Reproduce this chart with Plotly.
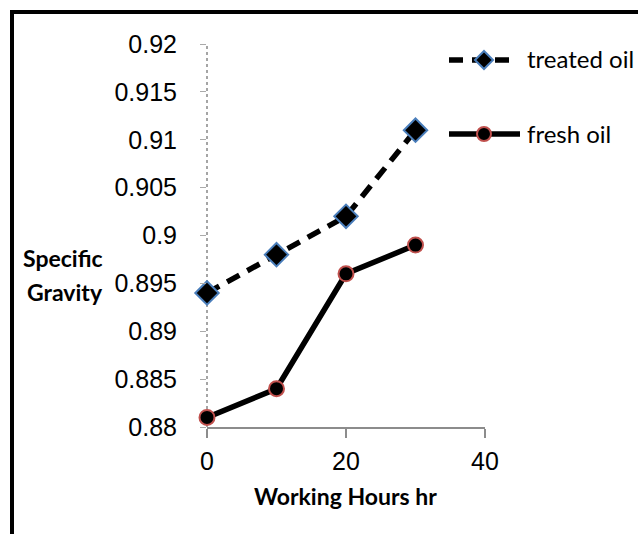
import plotly.graph_objects as go

hours = [0, 10, 20, 30]
treated_oil = [0.894, 0.898, 0.902, 0.911]
fresh_oil = [0.881, 0.884, 0.896, 0.899]
y_ticks = [0.88, 0.885, 0.89, 0.895, 0.9, 0.905, 0.91, 0.915, 0.92]
y_tick_labels = ["0.88", "0.885", "0.89", "0.895", "0.9", "0.905", "0.91", "0.915", "0.92"]
x_ticks = [0, 20, 40]

W, H = 638, 534
L, R, T, B = 207, 485, 44, 427

def px(X):
    return (X - L) / (R - L)

def py(Y):
    return (B - Y) / (B - T)

fig = go.Figure()
fig.add_trace(go.Scatter(
    x=hours, y=treated_oil, name="treated oil", mode="lines+markers",
    line=dict(color="black", width=5.5, dash="14px,9px"),
    marker=dict(symbol="diamond", size=18, color="black",
                line=dict(color="#4a7ebb", width=2)),
    cliponaxis=False, showlegend=False))
fig.add_trace(go.Scatter(
    x=hours, y=fresh_oil, name="fresh oil", mode="lines+markers",
    line=dict(color="black", width=5.5),
    marker=dict(symbol="circle", size=15, color="black",
                line=dict(color="#c0504d", width=2)),
    cliponaxis=False, showlegend=False))

shapes = []
# outer border
shapes.append(dict(type="rect", xref="paper", yref="paper",
                   x0=px(12), x1=px(660), y0=py(12), y1=py(560),
                   line=dict(color="black", width=4), fillcolor="rgba(0,0,0,0)", layer="below"))
# dotted y-axis line
shapes.append(dict(type="line", xref="paper", yref="paper", x0=0, x1=0, y0=0, y1=1,
                   line=dict(color="#888888", width=1.5, dash="dot"), layer="below"))
# legend samples
shapes.append(dict(type="line", xref="paper", yref="paper",
                   x0=px(449), x1=px(518), y0=py(60), y1=py(60),
                   line=dict(color="black", width=5.5, dash="14px,9px")))
shapes.append(dict(type="path", xref="paper", yref="paper",
                   path="M {a},{b} L {c},{d} L {a},{e} L {f},{d} Z".format(
                       a=px(484), b=py(51), c=px(493), d=py(60), e=py(69), f=px(475)),
                   fillcolor="black", line=dict(color="#4a7ebb", width=2)))
shapes.append(dict(type="line", xref="paper", yref="paper",
                   x0=px(449), x1=px(520), y0=py(134), y1=py(134),
                   line=dict(color="black", width=5.5)))
shapes.append(dict(type="circle", xref="paper", yref="paper",
                   x0=px(477), x1=px(491), y0=py(127), y1=py(141),
                   fillcolor="black", line=dict(color="#c0504d", width=2)))

annotations = [
    dict(text="treated oil", xref="paper", yref="paper", x=px(525), y=py(59),
         xanchor="left", yanchor="middle", showarrow=False,
         font=dict(family="Lato", size=24, color="black")),
    dict(text="fresh oil", xref="paper", yref="paper", x=px(525), y=py(133),
         xanchor="left", yanchor="middle", showarrow=False,
         font=dict(family="Lato", size=24, color="black")),
    dict(text="<b>Specific</b>", xref="paper", yref="paper", x=px(63), y=py(258),
         xanchor="center", yanchor="middle", showarrow=False,
         font=dict(family="Lato", size=23, color="black")),
    dict(text="<b>Gravity</b>", xref="paper", yref="paper", x=px(65), y=py(292),
         xanchor="center", yanchor="middle", showarrow=False,
         font=dict(family="Lato", size=23, color="black")),
    dict(text="<b>Working Hours hr</b>", xref="paper", yref="paper", x=0.497, y=py(496),
         xanchor="center", yanchor="middle", showarrow=False,
         font=dict(family="Lato", size=23, color="black")),
]

fig.update_layout(
    width=W, height=H,
    margin=dict(l=L, r=W - R, t=T, b=H - B, pad=0),
    paper_bgcolor="white", plot_bgcolor="white",
    shapes=shapes, annotations=annotations,
    xaxis=dict(range=[0, 40], tickvals=x_ticks, showgrid=False, zeroline=False,
               showline=True, linecolor="#8c8c8c", linewidth=2,
               ticks="outside", ticklen=9, tickwidth=2, tickcolor="#8c8c8c",
               tickfont=dict(family="Liberation Sans", size=25, color="black"),
               ticklabelstandoff=2),
    yaxis=dict(range=[0.88, 0.92], tickvals=y_ticks, ticktext=y_tick_labels,
               showgrid=False, zeroline=False, showline=False,
               ticks="outside", ticklen=6, tickwidth=1, tickcolor="#aaaaaa",
               tickfont=dict(family="Liberation Sans", size=25, color="black"),
               ticklabelstandoff=18),
)

fig.write_html("out.html")
